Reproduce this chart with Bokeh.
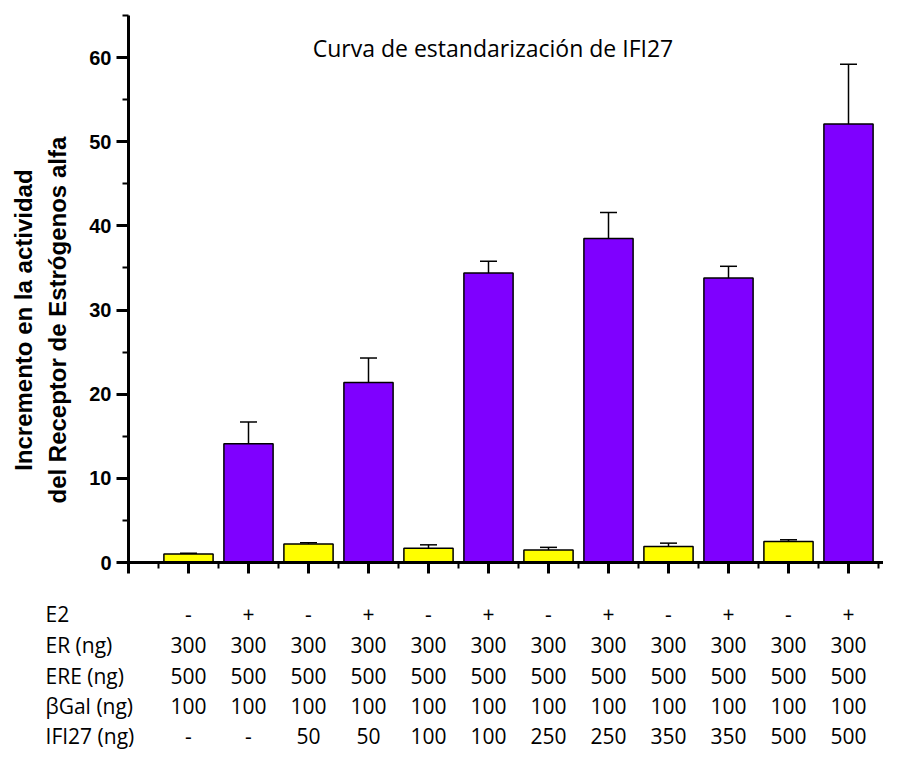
from math import pi
from bokeh.plotting import figure
from bokeh.models import (ColumnDataSource, Range1d, SingleIntervalTicker, Whisker,
                          TeeHead, Label, LabelSet)
from bokeh.core.properties import value
from bokeh.embed import file_html
from bokeh.resources import INLINE

# ---- data ----
positions = [1, 2, 3, 4, 5, 6, 7, 8, 9, 10, 11, 12]
values = [1.0, 14.1, 2.2, 21.4, 1.7, 34.4, 1.5, 38.5, 1.9, 33.8, 2.5, 52.1]
errors = [0.1, 2.6, 0.15, 2.9, 0.4, 1.4, 0.3, 3.1, 0.4, 1.4, 0.2, 7.1]
bar_colors = ["#FFFF00", "#7F00FF"] * 6

row_names = ["E2", "ER (ng)", "ERE (ng)", "βGal (ng)", "IFI27 (ng)"]
row_e2 = ["-", "+", "-", "+", "-", "+", "-", "+", "-", "+", "-", "+"]
row_er = ["300"] * 12
row_ere = ["500"] * 12
row_bgal = ["100"] * 12
row_ifi27 = ["-", "-", "50", "50", "100", "100", "250", "250", "350", "350", "500", "500"]

title_text = "Curva de estandarización de IFI27"
ylabel_1 = "Incremento en la actividad"
ylabel_2 = "del Receptor de Estrógenos alfa"

# ---- figure: the frame covers the whole canvas; axes sit at x=0 / y=0 ----
W, H = 883, 753
PX_X = 60.0      # pixels per x unit
PX_Y = 8.415     # pixels per y unit
X0, Y0 = 128, 562  # pixel position of the origin
p = figure(width=W, height=H, output_backend="svg", toolbar_location=None,
           x_range=Range1d(-X0 / PX_X, (W - X0) / PX_X),
           y_range=Range1d((Y0 - H) / PX_Y, Y0 / PX_Y),
           min_border=0, min_border_left=0, min_border_right=0,
           min_border_top=0, min_border_bottom=0)
p.outline_line_color = None
p.grid.visible = False
p.background_fill_color = "white"
p.border_fill_color = "white"

src = ColumnDataSource(dict(
    x=positions, top=values, color=bar_colors,
    upper=[v + e for v, e in zip(values, errors)],
    lower=[v - e for v, e in zip(values, errors)],
))
p.vbar(x="x", top="top", bottom=0, width=0.82, fill_color="color",
       line_color="black", line_width=1.5, source=src)

w = Whisker(base="x", upper="upper", lower="lower", source=src,
            line_color="black", line_width=1.5,
            upper_head=TeeHead(size=17, line_color="black", line_width=1.5),
            lower_head=TeeHead(size=17, line_color="black", line_width=1.5))
p.add_layout(w)

# axes
yax = p.yaxis[0]
yax.fixed_location = 0
yax.bounds = (0, 65)
yax.ticker = SingleIntervalTicker(interval=10, num_minor_ticks=2)
yax.axis_line_width = 3
yax.major_tick_line_width = 3
yax.minor_tick_line_width = 2
yax.major_tick_out = 12
yax.major_tick_in = 0
yax.minor_tick_out = 6
yax.minor_tick_in = 0
yax.major_label_text_font = "Liberation Sans"
yax.major_label_text_font_style = "bold"
yax.major_label_text_font_size = "20px"
yax.major_label_text_color = "black"
yax.major_label_standoff = 5

xax = p.xaxis[0]
xax.fixed_location = 0
xax.bounds = (0, 20)
xax.ticker = SingleIntervalTicker(interval=1, num_minor_ticks=2)
xax.axis_line_width = 3
xax.major_tick_line_width = 3
xax.minor_tick_line_width = 2
xax.major_tick_out = 11
xax.major_tick_in = 0
xax.minor_tick_out = 6
xax.minor_tick_in = 0
xax.major_label_overrides = {i: "" for i in range(0, 14)}

# y label (two lines)
for txt, xpos in ((ylabel_1, -1.75), (ylabel_2, -1.18)):
    p.add_layout(Label(x=xpos, y=28.8, text=txt, angle=pi / 2,
                       text_align="center", text_baseline="middle",
                       text_font="Liberation Sans", text_font_style="bold",
                       text_font_size="24px", text_color="black"))

# title
p.add_layout(Label(x=6.075, y=61.1, text=title_text, text_align="center",
                   text_baseline="alphabetic", text_font="Open Sans",
                   text_font_size="23px", text_color="black"))

# table below the axis
rows = [row_e2, row_er, row_ere, row_bgal, row_ifi27]
row_y = [-7.13, -10.75, -14.38, -18.0, -21.6]
tx, ty, tt = [], [], []
for r, yv in zip(rows, row_y):
    for xv, t in zip(positions, r):
        tx.append(xv)
        ty.append(yv)
        tt.append(t)
tsrc = ColumnDataSource(dict(x=tx, y=ty, text=tt))
p.add_layout(LabelSet(x="x", y="y", text="text", source=tsrc,
                      text_align="center", text_baseline="alphabetic",
                      text_font=value("Open Sans"), text_font_size=value("21px"),
                      text_font_style="normal", text_color="black"))
nsrc = ColumnDataSource(dict(x=[-1.383] * 5, y=row_y, text=row_names))
p.add_layout(LabelSet(x="x", y="y", text="text", source=nsrc,
                      text_align="left", text_baseline="alphabetic",
                      text_font=value("Open Sans"), text_font_size=value("21px"),
                      text_font_style="normal", text_color="black"))

open("out.html", "w").write(file_html(p, INLINE))
